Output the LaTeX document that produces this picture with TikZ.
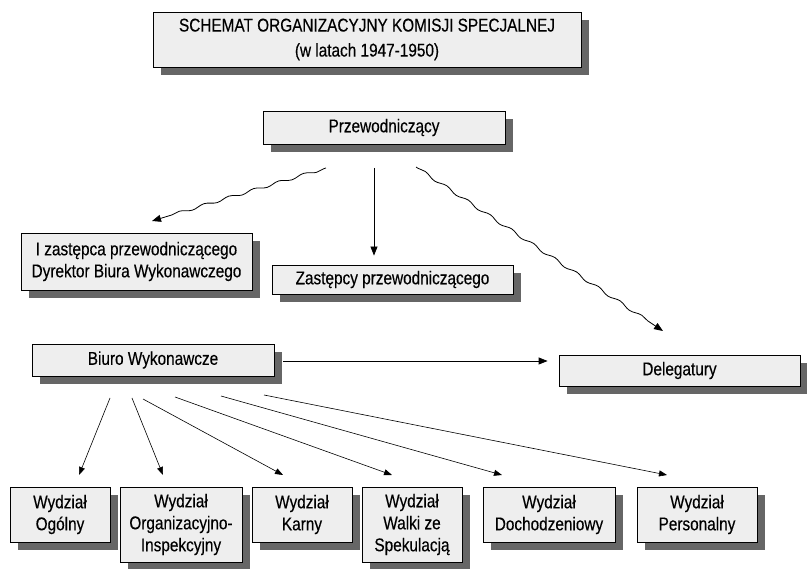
\documentclass[tikz,border=0pt]{standalone}
\usepackage{fontspec}
\setmainfont{Liberation Sans}[FakeStretch=0.83,FakeBold=0.3]
\usetikzlibrary{arrows.meta,shadows,decorations.pathmorphing,calc}
\begin{document}
\begin{tikzpicture}[x=1pt,y=-1pt,
  box/.style={draw=black, line width=0.8pt, fill=gray!13, align=center, inner sep=0pt,
    font=\fontsize{18.5}{22}\selectfont,
    drop shadow={shadow xshift=8pt, shadow yshift=-8pt, opacity=1, fill=black!60}},
  arr/.style={-{Triangle[length=9pt,width=7pt]}, line width=0.8pt},
  sarr/.style={-{Triangle[length=8pt,width=6pt]}, line width=0.6pt},
  wavy/.style={decorate, decoration={snake, amplitude=1.4pt, segment length=26pt, pre length=2pt, post length=12pt}}]
\fill[white] (0,0) rectangle (807,569);
\useasboundingbox (0,0) rectangle (807,569);

\node[box, minimum width=428pt, minimum height=55pt, font=\fontsize{18.5}{25}\selectfont] (title) at (367,39.5)
  {SCHEMAT ORGANIZACYJNY KOMISJI SPECJALNEJ\\(w latach 1947-1950)};
\node[box, minimum width=242pt, minimum height=33pt] (prz) at (384,127.5) {Przewodniczący};
\node[box, minimum width=231pt, minimum height=57pt] (zast1) at (136.5,261.5)
  {I zastępca przewodniczącego\\Dyrektor Biura Wykonawczego};
\node[box, minimum width=241pt, minimum height=29pt] (zast) at (392.5,279.5) {Zastępcy przewodniczącego};
\node[box, minimum width=242pt, minimum height=32pt] (biuro) at (153,360) {Biuro Wykonawcze};
\node[box, minimum width=241pt, minimum height=31pt] (deleg) at (679.5,370.5) {Delegatury};

\node[box, minimum width=100pt, minimum height=55pt] (ogol) at (60,514.5) {Wydział\\Ogólny};
\node[box, minimum width=122pt, minimum height=75pt] (org) at (181,524.5) {Wydział\\Organizacyjno-\\Inspekcyjny};
\node[box, minimum width=100pt, minimum height=55pt] (karny) at (302,514.5) {Wydział\\Karny};
\node[box, minimum width=100pt, minimum height=75pt] (walki) at (412,524.5) {Wydział\\Walki ze\\Spekulacją};
\node[box, minimum width=132pt, minimum height=55pt] (doch) at (549,514.5) {Wydział\\Dochodzeniowy};
\node[box, minimum width=120pt, minimum height=55pt] (pers) at (697,514.5) {Wydział\\Personalny};

% connectors from Przewodniczacy
\coordinate (pL) at (326,168);
\coordinate (tL) at (152,221);
\coordinate (pV) at (374,168);
\coordinate (pR) at (416,167);
\coordinate (tR) at (663,331);
\draw[arr,wavy] (pL) -- (tL);
\draw[arr, shorten >=9pt] (pV) -- (pV |- zast.north);
\draw[arr,wavy] (pR) -- (tR);

% Biuro -> Delegatury
\draw[arr, shorten >=11pt] ($(biuro.east)+(9,1)$) -- ($(biuro.east -| deleg.west)+(0,1)$);

% Biuro -> Wydzialy
\coordinate (b1) at (110,398); \coordinate (t1) at (79,475);
\coordinate (b2) at (132,398); \coordinate (t2) at (163,475);
\coordinate (b3) at (143,399); \coordinate (t3) at (283,475);
\coordinate (b4) at (175,397); \coordinate (t4) at (392,475);
\coordinate (b5) at (221,396); \coordinate (t5) at (502,475);
\coordinate (b6) at (264,395); \coordinate (t6) at (667,475);
\draw[sarr] (b1) -- (t1);
\draw[sarr] (b2) -- (t2);
\draw[sarr] (b3) -- (t3);
\draw[sarr] (b4) -- (t4);
\draw[sarr] (b5) -- (t5);
\draw[sarr] (b6) -- (t6);
\end{tikzpicture}
\end{document}
